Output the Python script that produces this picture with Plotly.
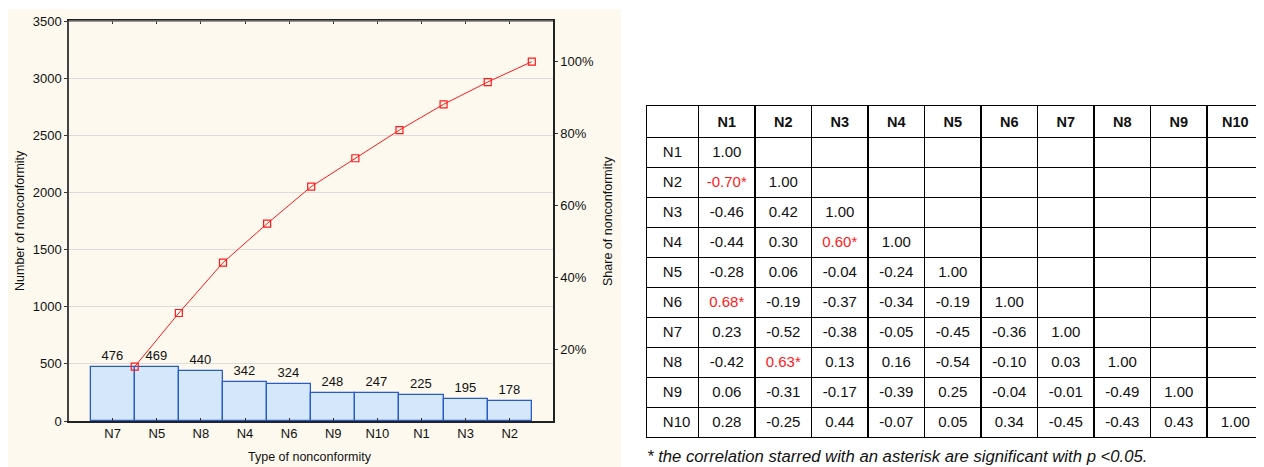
import plotly.graph_objects as go
import numpy as np

# ---------------- data ----------------
categories = ["N7", "N5", "N8", "N4", "N6", "N9", "N10", "N1", "N3", "N2"]
counts = [476, 469, 440, 342, 324, 248, 247, 225, 195, 178]
share_ticks = [20, 40, 60, 80, 100]
count_ticks = [0, 500, 1000, 1500, 2000, 2500, 3000, 3500]

corr_labels = ["N1", "N2", "N3", "N4", "N5", "N6", "N7", "N8", "N9", "N10"]
corr_rows = [
    ["1.00"],
    ["-0.70*", "1.00"],
    ["-0.46", "0.42", "1.00"],
    ["-0.44", "0.30", "0.60*", "1.00"],
    ["-0.28", "0.06", "-0.04", "-0.24", "1.00"],
    ["0.68*", "-0.19", "-0.37", "-0.34", "-0.19", "1.00"],
    ["0.23", "-0.52", "-0.38", "-0.05", "-0.45", "-0.36", "1.00"],
    ["-0.42", "0.63*", "0.13", "0.16", "-0.54", "-0.10", "0.03", "1.00"],
    ["0.06", "-0.31", "-0.17", "-0.39", "0.25", "-0.04", "-0.01", "-0.49", "1.00"],
    ["0.28", "-0.25", "0.44", "-0.07", "0.05", "0.34", "-0.45", "-0.43", "0.43", "1.00"],
]
footnote = "* the correlation starred with an asterisk are significant with p <0.05."

# ---------------- derived ----------------
W, H = 1264, 467
OFF = 8  # page body margin offset
total = sum(counts)
cum = np.cumsum(counts)
cum_pct = cum / total * 100
xpos = list(range(len(categories)))
line_x = [i + 0.5 for i in xpos]
y_max = count_ticks[-1]
FONT = "Liberation Sans, Arial, sans-serif"

def px(x):
    return (x - OFF) / W

def py(y):
    return 1 - (y - OFF) / H

fig = go.Figure()

fig.add_trace(go.Bar(
    x=xpos, y=counts, width=1.0,
    marker=dict(color="#d5e7fb", line=dict(color="#2a5cc8", width=1.3)),
    text=[str(c) for c in counts], textposition="outside",
    textfont=dict(family=FONT, size=13, color="#111"),
    cliponaxis=False, constraintext="none",
    xaxis="x", yaxis="y", showlegend=False,
))

fig.add_trace(go.Scatter(
    x=line_x, y=cum_pct, mode="lines+markers",
    line=dict(color="#ff1a1a", width=1),
    marker=dict(symbol="square-open", size=7, color="#ff1a1a", line=dict(width=1.2)),
    xaxis="x", yaxis="y2", showlegend=False, cliponaxis=False,
))

# table
n = len(corr_labels)
cols = [["\u00a0\u00a0" + c for c in corr_labels]]
colors = [["#111"] * n]
for j in range(n):
    col, ccol = [], []
    for i in range(n):
        v = corr_rows[i][j] if j < len(corr_rows[i]) else ""
        col.append(v)
        ccol.append("#ff1a1a" if v.endswith("*") else "#111")
    cols.append(col)
    colors.append(ccol)

fig.add_trace(go.Table(
    domain=dict(x=[px(646.5), px(1263.5)], y=[py(440), py(105.5)]),
    columnwidth=[52] + [56.5] * n,
    header=dict(
        values=[""] + ["<b>%s</b>" % c for c in corr_labels],
        height=28, align="center",
        fill=dict(color="white"), line=dict(color="black", width=1.3),
        font=dict(family=FONT, size=14.5, color="#111"),
    ),
    cells=dict(
        values=cols, height=30,
        align=["left"] + ["center"] * n,
        fill=dict(color="white"), line=dict(color="black", width=1.3),
        font=dict(family=FONT, size=15, color=colors),
    ),
))

x_dom = [px(69), px(553)]
y_dom = [py(421), py(21)]

def note(text, x, y, size, angle=0, xanchor="center"):
    return dict(text=text, x=px(x), y=py(y), xref="paper", yref="paper",
                xanchor=xanchor, yanchor="middle", textangle=angle,
                showarrow=False, font=dict(size=size))

fig.update_layout(
    width=W, height=H,
    margin=dict(l=0, r=0, t=0, b=0, autoexpand=False),
    paper_bgcolor="white", plot_bgcolor="white",
    font=dict(family=FONT, size=13, color="#111"),
    bargap=0,
    xaxis=dict(
        domain=x_dom, range=[-0.99, 9.98], automargin=False,
        tickmode="array", tickvals=xpos, ticktext=categories,
        ticks="inside", ticklen=3, tickcolor="#333",
        showline=True, linecolor="#222", linewidth=1.5,
        mirror="ticks", showgrid=False, zeroline=False,
        tickfont=dict(size=13),
    ),
    yaxis=dict(
        domain=y_dom, range=[0, y_max], automargin=False,
        tickmode="array", tickvals=count_ticks,
        ticks="outside", ticklen=3, tickcolor="#333",
        showline=True, linecolor="#444", linewidth=1.5,
        showgrid=True, gridcolor="#dcdcdc", gridwidth=1, zeroline=False,
        tickfont=dict(size=13),
    ),
    yaxis2=dict(
        overlaying="y", side="right", anchor="x", automargin=False,
        range=[0, y_max / total * 100],
        tickmode="array", tickvals=share_ticks,
        ticktext=["%d%%" % v for v in share_ticks],
        ticks="outside", ticklen=3, tickcolor="#333",
        showline=True, linecolor="#222", linewidth=1.5,
        showgrid=False, zeroline=False, tickfont=dict(size=13),
    ),
    shapes=[
        dict(type="rect", xref="paper", yref="paper",
             x0=px(6), x1=px(621), y0=py(480), y1=py(9),
             fillcolor="#fdf9ee", line=dict(width=0), layer="below"),
        dict(type="line", xref="paper", yref="paper",
             x0=x_dom[0], x1=x_dom[1], y0=y_dom[1], y1=y_dom[1],
             line=dict(color="#777", width=1.5)),
    ],
    annotations=[
        note("Number of nonconformity", 20, 221, 12.5, angle=-90),
        note("Share of nonconformity", 608, 221, 12.5, angle=-90),
        note("Type of nonconformity", 310, 457, 12.5),
        note("<i>" + footnote + "</i>", 645, 456, 16.7, xanchor="left"),
    ],
)

fig.write_html("out.html")
